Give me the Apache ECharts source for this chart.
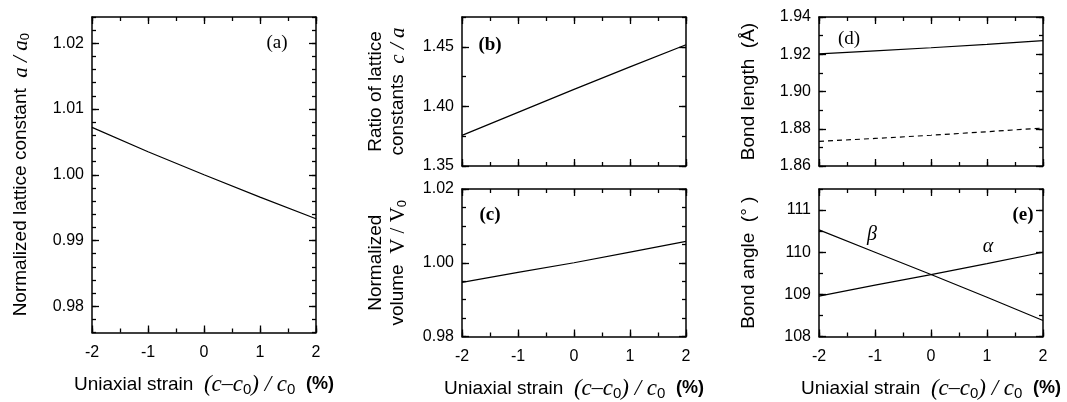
<!DOCTYPE html>
<html>
<head>
<meta charset="utf-8">
<script src="https://cdn.jsdelivr.net/npm/echarts@6/dist/echarts.min.js"></script>
<style>
  html, body { margin: 0; padding: 0; background: #fff; }
  #chart { width: 1067px; height: 402px; }
</style>
</head>
<body>
<div id="chart"></div>
<script>
// strain (%) and values
const strain = [-2, -1, 0, 1, 2];
const latticeA = [1.0072, 1.0035, 1.0000, 0.9966, 0.9933];
const ratioCA = [1.3757, 1.3950, 1.4143, 1.4332, 1.4517];
const volume = [0.9947, 0.9974, 1.0000, 1.0029, 1.0058];
const bondLong = [1.9202, 1.9218, 1.9235, 1.9253, 1.9273];
const bondShort = [1.8732, 1.8748, 1.8765, 1.8784, 1.8804];
const angleBeta = [110.53, 110.00, 109.47, 108.93, 108.38];
const angleAlpha = [108.96, 109.22, 109.47, 109.73, 110.00];

// tick labels
const strainTicks = [-2, -1, 0, 1, 2];
const aTicks = [0.98, 0.99, 1.00, 1.01, 1.02];
const bTicks = [1.35, 1.40, 1.45];
const cTicks = [0.98, 1.00, 1.02];
const dTicks = [1.86, 1.88, 1.90, 1.92, 1.94];
const eTicks = [108, 109, 110, 111];

const black = '#000';
const sans = 'Liberation Sans, Arial, sans-serif';
const serif = 'Liberation Serif, Times New Roman, serif';

const rich = {
  i: { fontFamily: serif, fontStyle: 'italic', fontSize: 21, color: black },
  xi: { fontFamily: serif, fontStyle: 'italic', fontSize: 23, color: black },
  s: { fontFamily: serif, fontSize: 21, color: black },
  n: { fontFamily: serif, fontSize: 22, color: black },
  sub: { fontFamily: sans, fontSize: 13, color: black, padding: [9, 0, 0, 0] },
  xsub: { fontFamily: sans, fontSize: 15, color: black, padding: [10, 0, 0, 0] },
  b: { fontFamily: sans, fontWeight: 'bold', fontSize: 18, color: black }
};

const grids = [
  { left: 92, top: 17, width: 224, height: 321 },
  { left: 462, top: 17, width: 224, height: 149 },
  { left: 462, top: 189, width: 224, height: 149 },
  { left: 819, top: 17, width: 224, height: 149 },
  { left: 819, top: 189, width: 224, height: 149 }
];

// each side of the box gets a major axis (line, long ticks) and a minor axis (short ticks)
function boxAxes(dim, grid, min, max, major, minorStep, opts) {
  const sides = dim === 'x' ? ['bottom', 'top'] : ['left', 'right'];
  const out = [];
  sides.forEach(function (pos, k) {
    const base = {
      type: 'value', gridIndex: grid, position: pos, min: min, max: max,
      splitLine: { show: false }
    };
    const main = Object.assign({}, base, {
      axisLine: { show: true, onZero: false, lineStyle: { color: black, width: 1.5 } },
      axisTick: { inside: true, length: 7, customValues: major, lineStyle: { color: black, width: 1.3 } },
      axisLabel: { show: false }
    });
    if (k === 0 && opts.labels) {
      main.axisLabel = {
        show: true, customValues: major, margin: dim === 'x' ? 12 : 8,
        fontFamily: sans, fontSize: 16, color: black,
        formatter: opts.fmt
      };
    }
    if (k === 0 && opts.name) {
      main.name = opts.name;
      main.nameLocation = 'middle';
      main.nameGap = opts.gap;
      main.nameTextStyle = {
        fontFamily: sans, fontSize: opts.size || 19, color: black,
        lineHeight: 22, rich: rich
      };
    }
    out.push(main);
    out.push(Object.assign({}, base, {
      interval: minorStep,
      axisLine: { show: false, onZero: false },
      axisTick: { inside: true, length: 4, lineStyle: { color: black, width: 1.3 } },
      axisLabel: { show: false }
    }));
  });
  return out;
}

const fmtInt = function (v) { return String(Math.round(v)); };
const fmt2 = function (v) { return v.toFixed(2); };
const xName = 'Uniaxial strain  {xi|(c}{n|\u2013}{xi|c}{xsub|0}{xi|) / c}{xsub|0}  {b|(%)}';

let xAxes = [];
let yAxes = [];
// (a)
xAxes = xAxes.concat(boxAxes('x', 0, -2, 2, strainTicks, 0.5, { labels: true, fmt: fmtInt, name: xName, gap: 41, size: 19 }));
yAxes = yAxes.concat(boxAxes('y', 0, 0.976, 1.024, aTicks, 0.002, { labels: true, fmt: fmt2, name: 'Normalized lattice constant  {i|a / a}{sub|0}', gap: 60 }));
// (b)
xAxes = xAxes.concat(boxAxes('x', 1, -2, 2, strainTicks, 0.5, { labels: false }));
yAxes = yAxes.concat(boxAxes('y', 1, 1.35, 1.475, bTicks, 0.025, { labels: true, fmt: fmt2, name: 'Ratio of lattice\nconstants  {i|c / a}', gap: 53 }));
// (c)
xAxes = xAxes.concat(boxAxes('x', 2, -2, 2, strainTicks, 0.5, { labels: true, fmt: fmtInt, name: xName, gap: 41, size: 19 }));
yAxes = yAxes.concat(boxAxes('y', 2, 0.98, 1.02, cTicks, 0.005, { labels: true, fmt: fmt2, name: 'Normalized\nvolume  {s|V / V}{sub|0}', gap: 53 }));
// (d)
xAxes = xAxes.concat(boxAxes('x', 3, -2, 2, strainTicks, 0.5, { labels: false }));
yAxes = yAxes.concat(boxAxes('y', 3, 1.86, 1.94, dTicks, 0.01, { labels: true, fmt: fmt2, name: 'Bond length  (\u00c5)', gap: 59 }));
// (e)
xAxes = xAxes.concat(boxAxes('x', 4, -2, 2, strainTicks, 0.5, { labels: true, fmt: fmtInt, name: xName, gap: 41, size: 19 }));
yAxes = yAxes.concat(boxAxes('y', 4, 108, 111.5, eTicks, 0.5, { labels: true, fmt: fmtInt, name: 'Bond angle  (\u00b0 )', gap: 59 }));

function pairs(ys) {
  return strain.map(function (x, i) { return [x, ys[i]]; });
}

function line(grid, ys, dashed) {
  return {
    type: 'line', xAxisIndex: grid * 4, yAxisIndex: grid * 4,
    data: pairs(ys), showSymbol: false, symbol: 'none', smooth: false,
    lineStyle: { color: black, width: 1.2, type: dashed ? [5, 4] : 'solid' },
    silent: true
  };
}

function panelText(text, x, y, font) {
  return {
    type: 'text', x: x, y: y, silent: true,
    style: { text: text, font: font, fill: black, align: 'center', verticalAlign: 'middle' }
  };
}

const option = {
  animation: false,
  backgroundColor: '#fff',
  grid: grids,
  xAxis: xAxes,
  yAxis: yAxes,
  series: [
    line(0, latticeA, false),
    line(1, ratioCA, false),
    line(2, volume, false),
    line(3, bondLong, false),
    line(3, bondShort, true),
    line(4, angleBeta, false),
    line(4, angleAlpha, false)
  ],
  graphic: [
    panelText('(a)', 277, 43, '19px ' + serif),
    panelText('(b)', 490, 45, 'bold 19px ' + serif),
    panelText('(c)', 490, 215, 'bold 19px ' + serif),
    panelText('(d)', 849, 39, '19px ' + serif),
    panelText('(e)', 1023, 215, 'bold 19px ' + serif),
    panelText('\u03b2', 872, 235, 'italic 20px ' + serif),
    panelText('\u03b1', 988, 247, 'italic 20px ' + serif)
  ]
};

const chart = echarts.init(document.getElementById('chart'));
chart.setOption(option);
</script>
</body>
</html>
